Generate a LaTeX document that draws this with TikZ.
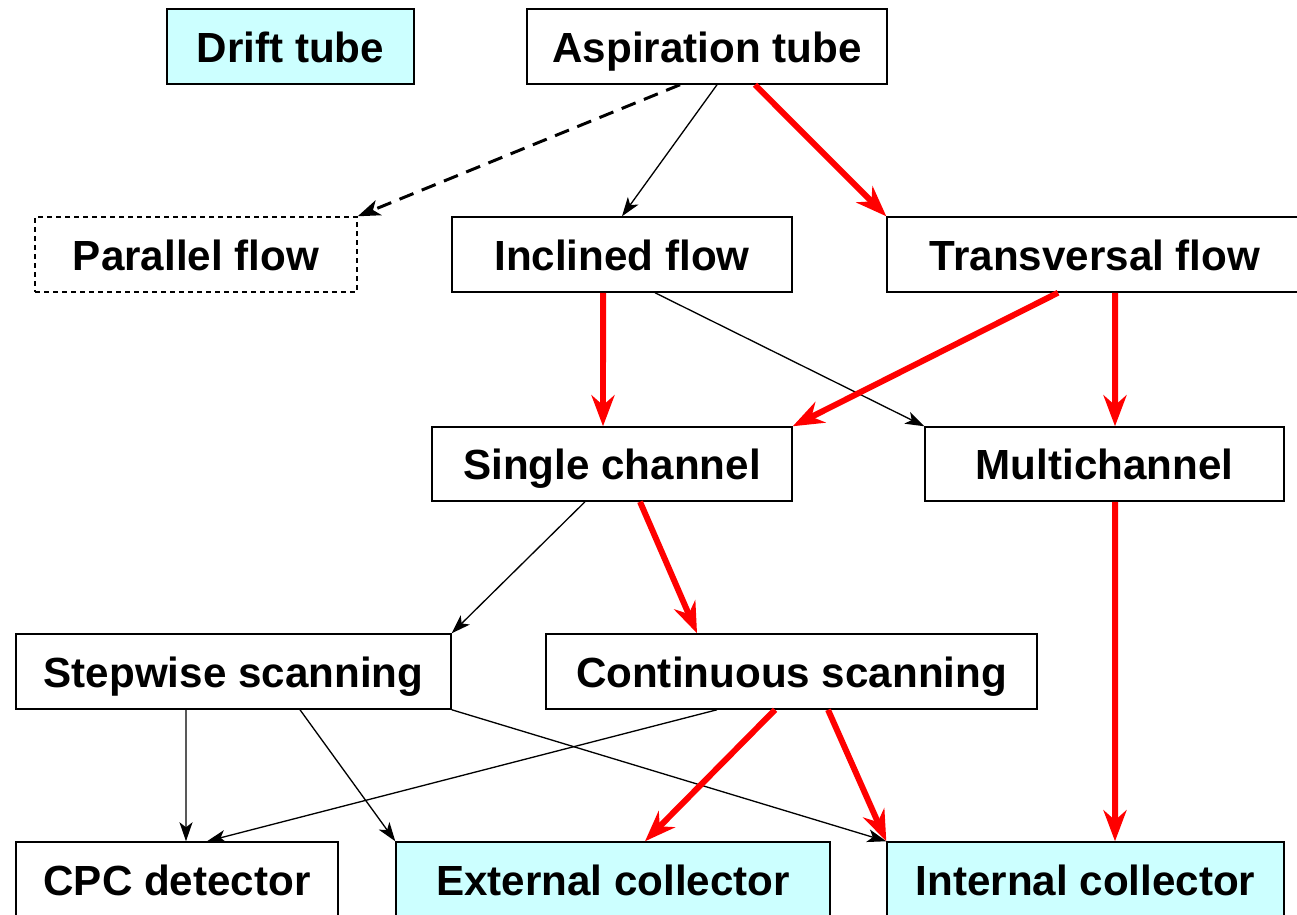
\documentclass[tikz,border=0pt]{standalone}
\usepackage{fontspec}
\setmainfont{Liberation Sans}
\usepackage{xcolor}
\definecolor{tubecolor}{HTML}{CCFFFF}
\definecolor{fastcolor}{HTML}{FF0000}
\usetikzlibrary{arrows.meta}

\begin{document}
\begin{tikzpicture}[x=0.02cm, y=-0.02cm]

    \tikzset{%
        box/.style={draw, line width=0.85pt, minimum height=1.5cm, inner sep=0pt,
                text height=0.62cm, text depth=0cm,
                font=\fontsize{24}{28}\selectfont\bfseries},
        collbox/.style={box, fill=tubecolor},
        thinarrow/.style={line width=0.75pt, -{Stealth[length=0.38cm, width=0.26cm, inset=0.1cm]}},
        fastarrow/.style={fastcolor, line width=3.4pt, -{Stealth[length=0.62cm, width=0.46cm, inset=0.2cm]}},
        guessarrow/.style={line width=1.7pt, dash pattern=on 0.3cm off 0.18cm,
                -{Stealth[length=0.45cm, width=0.32cm, inset=0.12cm]}}
    }

    \useasboundingbox (0, 0) rectangle (1297, 914);

    \node [collbox, minimum width=4.94cm] (drift) at (290.5, 46.5) {Drift tube};
    \node [box, minimum width=7.2cm] (asp) at (707, 46.5) {Aspiration tube};

    \node [box, minimum width=6.44cm, dash pattern=on 0.1cm off 0.08cm] (par) at (196, 254.5) {Parallel flow};
    \node [box, minimum width=6.8cm] (incl) at (622, 254.5) {Inclined flow};
    \node [box, minimum width=8.32cm] (trans) at (1095, 254.5) {Transversal flow};

    \node [box, minimum width=7.2cm, minimum height=1.48cm] (single) at (612, 464) {Single channel};
    \node [box, minimum width=7.18cm, minimum height=1.48cm] (multi) at (1104.5, 464) {Multichannel};

    \node [box, minimum width=8.7cm] (step) at (233.5, 671.5) {Stepwise scanning};
    \node [box, minimum width=9.82cm] (cont) at (791.5, 671.5) {Continuous scanning};

    \node [box, minimum width=6.44cm] (cpc) at (177, 879.5) {CPC detector};
    \node [collbox, minimum width=8.68cm] (ext) at (613, 879.5) {External collector};
    \node [collbox, minimum width=7.94cm] (int) at (1085.5, 879.5) {Internal collector};

    \draw [guessarrow] ([xshift=-0.54cm]asp.south) -- (par.north east);
    \draw [thinarrow] ([xshift=0.2cm]asp.south) -- (incl.north);
    \draw [fastarrow] ([xshift=0.96cm]asp.south) -- (trans.north west);

    \draw [fastarrow] ([xshift=-0.38cm]incl.south) -- ([xshift=-0.18cm]single.north);
    \draw [thinarrow] ([xshift=0.66cm]incl.south) -- (multi.north west);
    \draw [fastarrow] ([xshift=-0.74cm]trans.south) -- (single.north east);
    \draw [fastarrow] ([xshift=0.4cm]trans.south) -- ([xshift=0.21cm]multi.north);

    \draw [thinarrow] ([xshift=-0.54cm]single.south) -- (step.north east);
    \draw [fastarrow] ([xshift=0.56cm]single.south) -- ([xshift=-1.89cm]cont.north);
    \draw [fastarrow] ([xshift=0.21cm]multi.south) -- ([xshift=0.59cm]int.north);

    \draw [thinarrow] ([xshift=-0.95cm]step.south) -- ([xshift=0.18cm]cpc.north);
    \draw [thinarrow] ([xshift=1.33cm]step.south) -- (ext.north west);
    \draw [thinarrow] (step.south east) -- (int.north west);
    \draw [thinarrow] ([xshift=-1.49cm]cont.south) -- ([xshift=0.6cm]cpc.north);
    \draw [fastarrow] ([xshift=-0.33cm]cont.south) -- ([xshift=0.64cm]ext.north);
    \draw [fastarrow] ([xshift=0.73cm]cont.south) -- (int.north west);

\end{tikzpicture}
\end{document}
